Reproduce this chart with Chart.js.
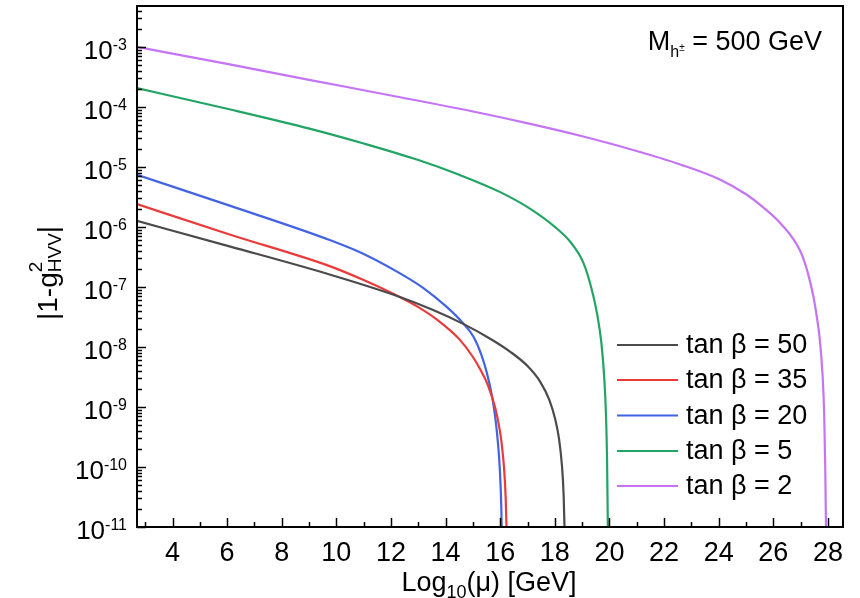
<!DOCTYPE html>
<html>
<head>
<meta charset="utf-8">
<script src="https://cdn.jsdelivr.net/npm/chart.js@4.4.1/dist/chart.umd.min.js"></script>
<style>
  html, body { margin: 0; padding: 0; background: #fff; }
</style>
</head>
<body>
<canvas id="grafico" width="860" height="598"></canvas>
<script>
// valores: x = log10(mu), y = |1 - g^2_HVV|
const x50 = [2.7, 6.12, 9.78, 12.1, 13.5, 14.66, 15.6, 16.37, 17.0, 17.47, 17.8, 18.01, 18.15, 18.26, 18.32, 18.37];
const y50 = [1.26e-6, 4.7e-7, 1.6e-7, 7.4e-8, 4.2e-8, 2.4e-8, 1.4e-8, 8.3e-9, 4.8e-9, 2.6e-9, 1.3e-9, 6.3e-10, 3.0e-10, 1.05e-10, 3.5e-11, 5e-12];

const x35 = [2.7, 6.12, 9.78, 11.0, 12.1, 13.0, 13.8, 14.5, 15.0, 15.27, 15.55, 15.82, 15.98, 16.06, 16.14, 16.2, 16.24];
const y35 = [2.4e-6, 7.4e-7, 2.2e-7, 1.3e-7, 7.6e-8, 4.6e-8, 2.6e-8, 1.35e-8, 6.8e-9, 4.2e-9, 2.3e-9, 9.5e-10, 4.2e-10, 2.3e-10, 9.5e-11, 3.0e-11, 6.3e-12];

const x20 = [2.7, 6.12, 9.78, 11.0, 12.22, 13.2, 14.05, 14.6, 15.02, 15.3, 15.51, 15.7, 15.82, 15.92, 15.98, 16.04, 16.08];
const y20 = [7.4e-6, 2.24e-6, 6.0e-7, 3.55e-7, 1.8e-7, 9.5e-8, 4.6e-8, 2.6e-8, 1.48e-8, 7.6e-9, 3.7e-9, 1.5e-9, 6.6e-10, 2.4e-10, 1.0e-10, 2.0e-11, 1.6e-12];

const x5 = [2.7, 6.0, 9.05, 11.0, 13.0, 14.5, 16.0, 17.1, 18.0, 18.6, 19.05, 19.35, 19.55, 19.7, 19.8, 19.87, 19.91, 19.935, 19.95];
const y5 = [2.05e-4, 9.3e-5, 4.3e-5, 2.45e-5, 1.3e-5, 7.4e-6, 3.8e-6, 2.0e-6, 1.0e-6, 5.4e-7, 2.5e-7, 9.1e-8, 3.5e-8, 1.2e-8, 3.5e-9, 7.9e-10, 1.4e-10, 1.6e-11, 3.2e-12];

const x2 = [2.7, 6.0, 9.05, 12.0, 15.27, 17.1, 18.93, 20.8, 22.59, 24.0, 25.0, 25.64, 26.3, 26.98, 27.25, 27.47, 27.6, 27.71, 27.8, 27.86, 27.9, 27.935];
const y2 = [1.0e-3, 5.2e-4, 2.8e-4, 1.55e-4, 7.9e-5, 5.2e-5, 3.3e-5, 1.95e-5, 1.1e-5, 6.3e-6, 3.5e-6, 2.1e-6, 1.1e-6, 4.0e-7, 1.8e-7, 6.8e-8, 3.0e-8, 1.2e-8, 3.5e-9, 7.9e-10, 1.0e-10, 5e-12];

const etiquetas = ["tan β = 50", "tan β = 35", "tan β = 20", "tan β = 5", "tan β = 2"];
const colores = ["#4b4b4b", "#ea3b3b", "#4263e2", "#22a464", "#c474f4"];

const xTicks = [4, 6, 8, 10, 12, 14, 16, 18, 20, 22, 24, 26, 28];
const yExps = [-11, -10, -9, -8, -7, -6, -5, -4, -3];

const FUENTE = '"Liberation Sans", Arial, sans-serif';

function puntos(xs, ys) {
  return xs.map((v, i) => ({ x: v, y: ys[i] }));
}

const series = [[x50, y50], [x35, y35], [x20, y20], [x5, y5], [x2, y2]];

// dibuja texto en trozos [texto, tamaño, desplazamiento vertical]
function trozos(ctx, partes, x0, base) {
  let cx = x0;
  partes.forEach(p => {
    ctx.font = p[1] + 'px ' + FUENTE;
    ctx.fillText(p[0], cx, base + p[2]);
    cx += ctx.measureText(p[0]).width;
  });
}
function anchoTrozos(ctx, partes) {
  let w = 0;
  partes.forEach(p => { ctx.font = p[1] + 'px ' + FUENTE; w += ctx.measureText(p[0]).width; });
  return w;
}

// ejes, marcas hacia dentro, etiquetas con superindices y leyenda
const dibujo = {
  id: 'dibujo',
  afterDraw(chart) {
    const { ctx, chartArea: a, scales: { x, y } } = chart;
    ctx.save();
    ctx.strokeStyle = '#000';
    ctx.fillStyle = '#000';

    // marcas eje x
    ctx.lineWidth = 1.5;
    for (let v = 3; v <= 28; v++) {
      const px = Math.round(x.getPixelForValue(v)) + 0.5;
      const len = v % 2 === 0 ? 9 : 5;
      ctx.beginPath(); ctx.moveTo(px, a.bottom); ctx.lineTo(px, a.bottom - len); ctx.stroke();
    }
    // marcas eje y
    for (const e of yExps) {
      for (let k = 1; k <= 9; k++) {
        const val = k * Math.pow(10, e);
        if (val > y.max) break;
        const py = Math.round(y.getPixelForValue(val)) + 0.5;
        const len = k === 1 ? 9 : 5;
        ctx.beginPath(); ctx.moveTo(a.left, py); ctx.lineTo(a.left + len, py); ctx.stroke();
      }
    }

    // marco
    ctx.lineWidth = 2;
    ctx.strokeRect(a.left, a.top, a.right - a.left, a.bottom - a.top);

    // etiquetas x
    ctx.font = '27px ' + FUENTE;
    ctx.textAlign = 'center';
    ctx.textBaseline = 'alphabetic';
    xTicks.forEach(v => ctx.fillText(String(v), x.getPixelForValue(v), 561));

    // etiquetas y: 10 con exponente
    yExps.forEach(e => {
      const py = y.getPixelForValue(Math.pow(10, e));
      ctx.textAlign = 'right';
      ctx.font = '16px ' + FUENTE;
      const sup = '-' + Math.abs(e);
      ctx.fillText(sup, 127, py + 3);
      const w = ctx.measureText(sup).width;
      ctx.font = '26px ' + FUENTE;
      ctx.fillText('10', 127 - w, py + 12);
    });

    // titulo eje x
    ctx.textAlign = 'left';
    const partesX = [['Log', 27, 0], ['10', 18, 7], ['(μ) [GeV]', 27, 0]];
    trozos(ctx, partesX, 489 - anchoTrozos(ctx, partesX) / 2, 591);

    // titulo eje y
    ctx.save();
    ctx.translate(57, 320);
    ctx.rotate(-Math.PI / 2);
    ctx.font = '28px ' + FUENTE;
    ctx.fillText('|1-g', 0, 0);
    let ty = ctx.measureText('|1-g').width;
    ctx.font = '19px ' + FUENTE;
    ctx.fillText('2', ty, -15);
    ctx.fillText('HVV', ty, 4);
    ty += ctx.measureText('HVV').width;
    ctx.font = '28px ' + FUENTE;
    ctx.fillText('|', ty, 0);
    ctx.restore();

    // anotacion masa
    const partesM = [['M', 27, 0], ['h', 16, 7], ['±', 10, 1], [' = 500 GeV', 27, 0]];
    trozos(ctx, partesM, 822 - anchoTrozos(ctx, partesM), 50);

    // leyenda
    const filas = [345, 380, 415.5, 451, 486];
    ctx.textBaseline = 'middle';
    chart.data.datasets.forEach((ds, i) => {
      ctx.strokeStyle = ds.borderColor;
      ctx.lineWidth = ds.borderWidth;
      ctx.beginPath(); ctx.moveTo(617, filas[i]); ctx.lineTo(678, filas[i]); ctx.stroke();
      ctx.font = '27px ' + FUENTE;
      ctx.fillText(ds.label, 686, filas[i] + 1);
    });
    ctx.restore();
  }
};

new Chart(document.getElementById('grafico'), {
  type: 'line',
  data: {
    datasets: series.map((s, i) => ({
      label: etiquetas[i],
      data: puntos(s[0], s[1]),
      borderColor: colores[i],
      borderWidth: 2.2,
      pointRadius: 0,
      cubicInterpolationMode: 'monotone',
      fill: false
    }))
  },
  options: {
    responsive: false,
    animation: false,
    devicePixelRatio: 1,
    layout: { padding: { top: 6, right: 17, left: 0, bottom: 0 } },
    plugins: { legend: { display: false }, tooltip: { enabled: false } },
    scales: {
      x: {
        type: 'linear',
        min: 2.7,
        max: 28.55,
        grid: { display: false },
        border: { display: false },
        ticks: { display: false },
        afterFit: s => { s.height = 71; }
      },
      y: {
        type: 'logarithmic',
        min: 1e-11,
        max: 4.8e-3,
        grid: { display: false },
        border: { display: false },
        ticks: { display: false },
        afterFit: s => { s.width = 137; }
      }
    }
  },
  plugins: [dibujo]
});
</script>
</body>
</html>
